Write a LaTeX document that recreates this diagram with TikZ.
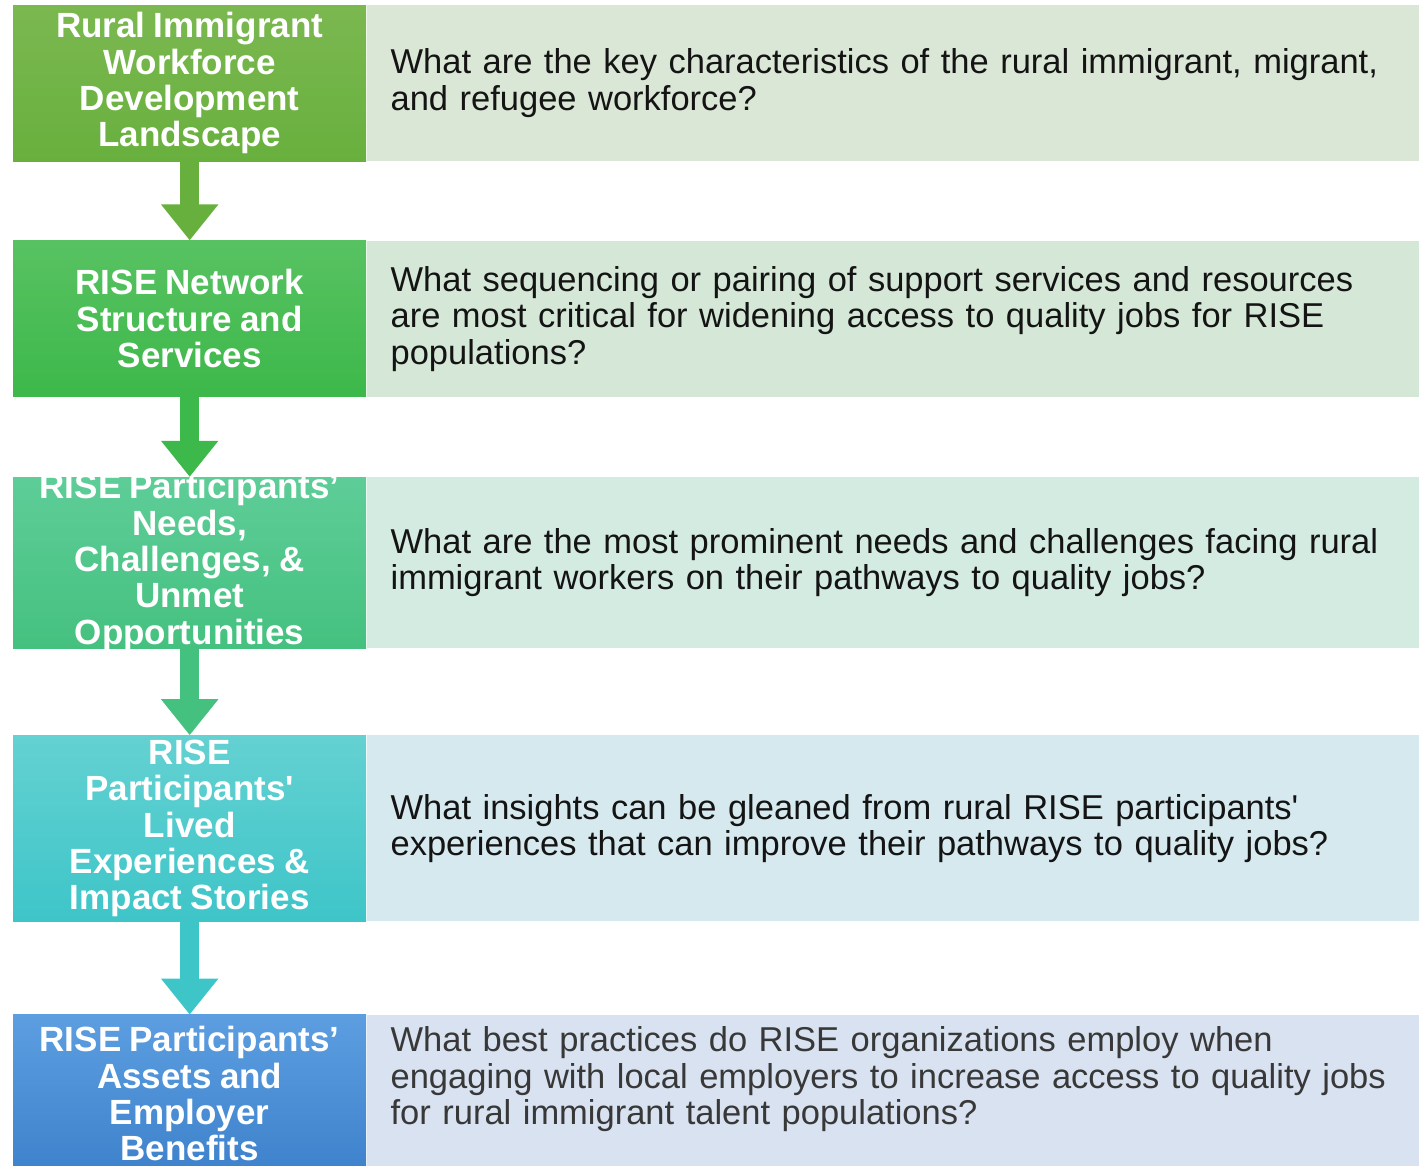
\documentclass[tikz,border=0pt]{standalone}
\usepackage{fontspec}
\setmainfont{Liberation Sans}[Ligatures=TeXOff, WordSpace=0.85]
\usepackage{xcolor}
\usepackage{tikz}
\usetikzlibrary{positioning, arrows.meta}

\definecolor{topicAtop}{HTML}{7BB850}
\definecolor{topicAbot}{HTML}{68B03E}
\definecolor{topicBtop}{HTML}{58C262}
\definecolor{topicBbot}{HTML}{3DB84A}
\definecolor{topicCtop}{HTML}{5ECD98}
\definecolor{topicCbot}{HTML}{45C17F}
\definecolor{topicDtop}{HTML}{64D1D2}
\definecolor{topicDbot}{HTML}{3EC5C8}
\definecolor{topicEtop}{HTML}{5C9EE0}
\definecolor{topicEbot}{HTML}{3E82CC}
\definecolor{panelA}{HTML}{DBE7D6}
\definecolor{panelB}{HTML}{D5E8D7}
\definecolor{panelC}{HTML}{D4EBE1}
\definecolor{panelD}{HTML}{D6E9EE}
\definecolor{panelE}{HTML}{D8E2F0}
\definecolor{qtext}{HTML}{141414}

\begin{document}
\begin{tikzpicture}[x=1pt, y=1pt, node distance=80pt,
    topic/.style={minimum width=353pt, inner sep=0pt, align=center, text=white,
      font=\fontsize{35}{36.3}\selectfont\bfseries},
    question/.style={minimum width=1053pt, text width=1005pt, inner xsep=24pt,
      inner ysep=0pt, align=left, text=qtext, font=\fontsize{34.5}{36.5}\selectfont},
    flow/.style={line width=19pt, -{Triangle[width=55pt, length=36pt]}}]

    \useasboundingbox (0,0) rectangle (1419,-1165);

    % Topics on the left
    \node[topic, anchor=north west, minimum height=156pt, top color=topicAtop, bottom color=topicAbot] (t1) at (13,-5) {Rural Immigrant\\Workforce\\Development\\Landscape};
    \node[topic, below=79pt of t1, minimum height=156pt, top color=topicBtop, bottom color=topicBbot] (t2) {RISE Network\\Structure and\\Services};
    \node[topic, below=80pt of t2, minimum height=171pt, inner ysep=-4pt, top color=topicCtop, bottom color=topicCbot] (t3) {RISE Participants’\\Needs,\\Challenges, \&\\Unmet\\Opportunities};
    \node[topic, below=87pt of t3, minimum height=186pt, top color=topicDtop, bottom color=topicDbot] (t4) {RISE\\Participants'\\Lived\\Experiences \&\\Impact Stories};
    \node[topic, below=93pt of t4, minimum height=158pt, top color=topicEtop, bottom color=topicEbot] (t5) {RISE Participants’\\Assets and\\Employer\\Benefits};

    % Questions on the right
    \node[question, fill=panelA, minimum height=156pt, right=0pt of t1] (q1) {What are the key characteristics of the rural immigrant, migrant,\\and refugee workforce?};
    \node[question, fill=panelB, minimum height=156pt, right=0pt of t2] (q2) {What sequencing or pairing of support services and resources\\are most critical for widening access to quality jobs for RISE\\populations?};
    \node[question, fill=panelC, minimum height=171pt, right=0pt of t3] (q3) {What are the most prominent needs and challenges facing rural\\immigrant workers on their pathways to quality jobs?};
    \node[question, fill=panelD, minimum height=186pt, right=0pt of t4] (q4) {What insights can be gleaned from rural RISE participants'\\experiences that can improve their pathways to quality jobs?};
    \node[question, fill=panelE, minimum height=158pt, text=black!78, right=0pt of t5] (q5) {What best practices do RISE organizations employ when\\engaging with local employers to increase access to quality jobs\\for rural immigrant talent populations?\\\mbox{}};

    % Arrows between topics
    \draw[flow, topicAbot] (t1) -- (t2);
    \draw[flow, topicBbot] (t2) -- (t3);
    \draw[flow, topicCbot] (t3) -- (t4);
    \draw[flow, topicDbot] (t4) -- (t5);

\end{tikzpicture}
\end{document}
